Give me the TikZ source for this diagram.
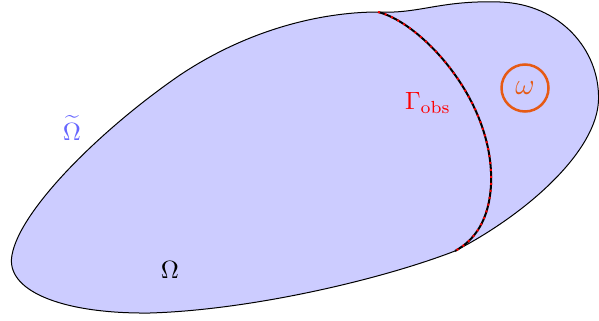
\documentclass[tikz,border=0pt]{standalone}
\usepackage{amsmath}
\definecolor{regionfill}{RGB}{204,204,255}
\definecolor{tildeblue}{RGB}{102,102,255}
\definecolor{omegaorange}{RGB}{230,90,20}
\begin{document}
\begin{tikzpicture}[x=0.4pt,y=-0.4pt,
  outline/.style={draw=black,line width=0.4pt,fill=regionfill},
  gammaline/.style={draw=black,line width=0.8pt},
  gammadots/.style={draw=red,line width=0.8pt,dotted},
  omegacircle/.style={circle,draw=omegaorange,line width=1pt,minimum size=18.8pt,inner sep=0pt,text=omegaorange,font=\large}]
\useasboundingbox (0,0) rectangle (599,320);
\coordinate (gA) at (378,12);
\coordinate (gB) at (455,251);
\draw[outline] (gA) .. controls (420,14) and (440,0) .. (500,2)
  .. controls (560,4) and (600,50) .. (598.5,100)
  .. controls (597,150) and (530,212) .. (gB)
  .. controls (380,280) and (250,310) .. (150,313)
  .. controls (60,314) and (5,290) .. (12,255)
  .. controls (20,210) and (100,130) .. (180,75)
  .. controls (255,25) and (330,12) .. (gA) -- cycle;
\draw[gammaline] (gA) .. controls (420,22) and (495,100) .. (491,185) .. controls (489,220) and (475,240) .. (gB);
\draw[gammadots] (gA) .. controls (420,22) and (495,100) .. (491,185) .. controls (489,220) and (475,240) .. (gB);
\node (omega) at (170,270) {$\Omega$};
\node[text=tildeblue] (omegat) at (72,128) {$\widetilde{\Omega}$};
\node[text=red] (gamma) at (428,103) {$\Gamma_{\mathrm{obs}}$};
\node[omegacircle] (small) at (525,88) {$\omega$};
\end{tikzpicture}
\end{document}
